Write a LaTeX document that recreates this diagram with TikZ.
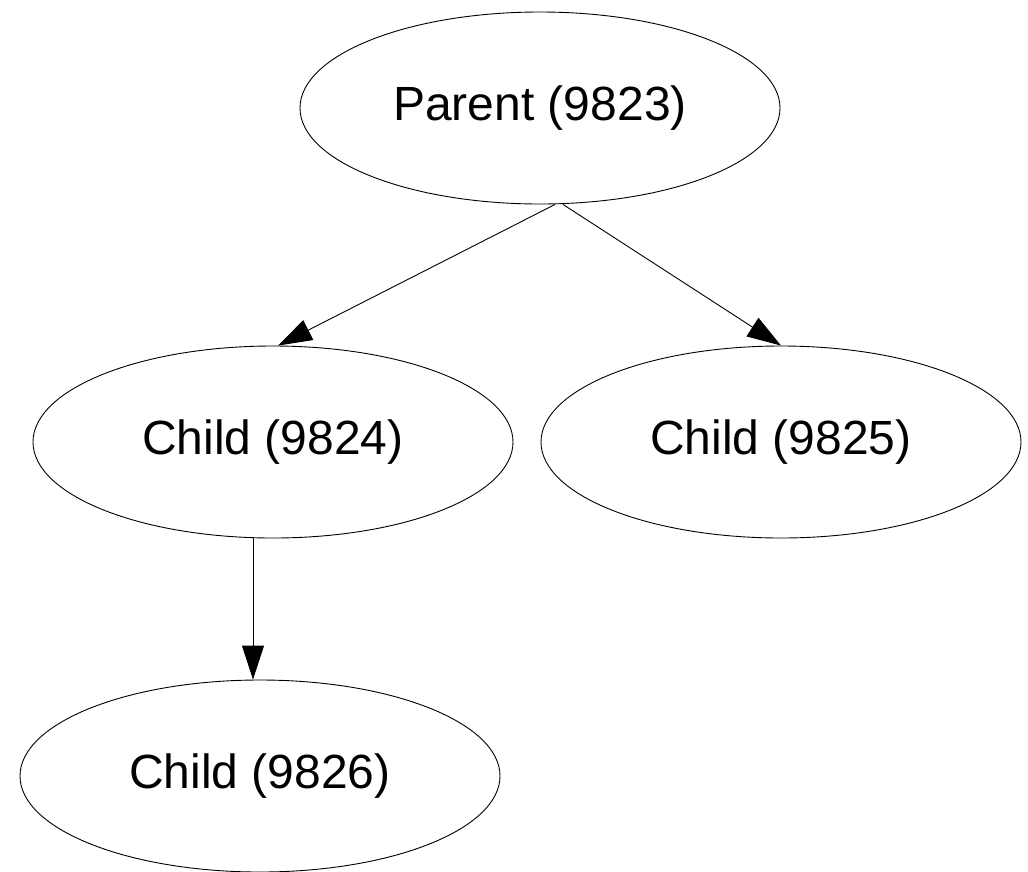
\documentclass[tikz,border=0pt]{standalone}
\usepackage{fontspec}
\setmainfont{Liberation Sans}
\usetikzlibrary{shapes.geometric,arrows.meta}
\begin{document}
\begin{tikzpicture}[x=1pt,y=-1pt,
  proc/.style={ellipse,draw,line width=0.9pt,minimum width=480pt,minimum height=192pt,
    inner sep=0pt,font=\fontsize{48}{58}\selectfont},
  edge/.style={line width=0.9pt,-{Triangle[length=34pt,width=22pt]}}]
\useasboundingbox (0,0) rectangle (1028,871);
\node[proc] (p)  at (540,108) {Parent (9823)};
\node[proc] (c1) at (273,442) {Child (9824)};
\node[proc] (c2) at (781,442) {Child (9825)};
\node[proc] (c3) at (260,776) {Child (9826)};
\draw[edge] ([xshift=15pt]p.south) -- ([xshift=5pt]c1.north);
\draw[edge] ([xshift=23pt]p.south) -- (c2.north);
\draw[edge] ([xshift=-20pt]c1.south) -- ([xshift=-7pt]c3.north);
\end{tikzpicture}
\end{document}
